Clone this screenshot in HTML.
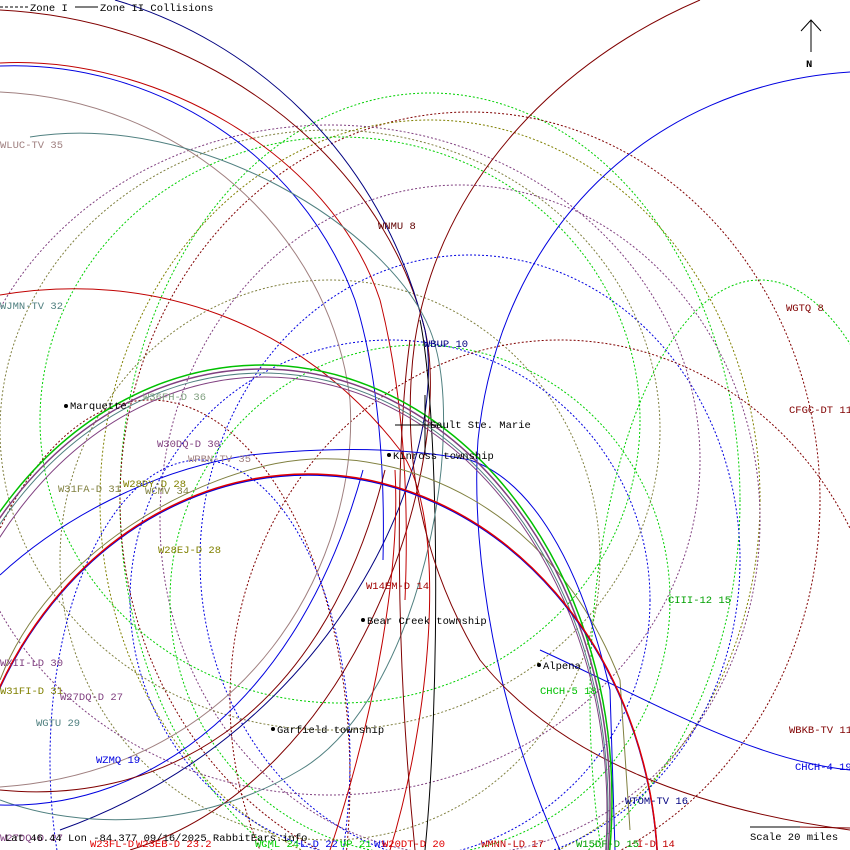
<!DOCTYPE html>
<html><head><meta charset="utf-8"><style>
html,body{margin:0;padding:0;background:#fff;width:850px;height:850px;overflow:hidden}
svg{display:block}
text{font-family:"Liberation Mono",monospace;font-size:10.5px}
</style></head><body>
<svg width="850" height="850" viewBox="0 0 850 850" xmlns="http://www.w3.org/2000/svg">
<g fill="none" stroke-width="1" stroke-dasharray="2,2">
<ellipse cx="430" cy="500" rx="310" ry="407" stroke="#00d000"/>
<ellipse cx="470" cy="500" rx="350" ry="388" stroke="#800000"/>
<ellipse cx="430" cy="500" rx="330" ry="380" stroke="#808000"/>
<ellipse cx="460" cy="520" rx="300" ry="335" stroke="#804080"/>
<ellipse cx="470" cy="560" rx="270" ry="305" stroke="#0000e0"/>
<ellipse cx="330" cy="560" rx="270" ry="280" stroke="#808040"/>
<ellipse cx="390" cy="600" rx="260" ry="260" stroke="#0000e0"/>
<ellipse cx="420" cy="600" rx="250" ry="255" stroke="#00d000"/>
<ellipse cx="560" cy="700" rx="330" ry="360" stroke="#800000"/>
<ellipse cx="340" cy="420" rx="300" ry="283" stroke="#00d000"/>
<ellipse cx="330" cy="430" rx="330" ry="300" stroke="#808040"/>
<ellipse cx="330" cy="460" rx="370" ry="335" stroke="#804080"/>
<ellipse cx="760" cy="700" rx="170" ry="420" stroke="#00d000"/>
<ellipse cx="150" cy="780" rx="200" ry="380" stroke="#800000"/>
<ellipse cx="200" cy="760" rx="150" ry="300" stroke="#0000e0"/>
</g>
<g fill="none" stroke-width="1">
<path d="M0,10 C200,20 380,150 425,330 C455,460 360,780 130,850" stroke="#800000"/>
<path d="M115,0 C250,40 380,150 425,330 C450,460 340,730 60,830" stroke="#000080"/>
<path d="M420,320 C440,420 440,700 425,850" stroke="#000000"/>
<path d="M0,63 C150,55 330,150 380,300 C400,380 410,480 405,600" stroke="#c00000"/>
<path d="M0,66 C150,60 300,150 355,300 C380,380 385,480 383,560" stroke="#0000e0"/>
<path d="M0,92 C180,100 330,230 350,400 C360,560 250,770 0,787" stroke="#a08080"/>
<path d="M30,137 C200,110 390,230 430,330 C470,430 420,700 300,770 C200,830 80,830 0,800" stroke="#508080"/>
<path d="M0,295 C150,270 300,320 400,450 C450,520 430,720 390,850" stroke="#c00000"/>
<path d="M850,72 C650,85 500,230 478,440 C470,560 500,720 560,850" stroke="#0000e0"/>
<path d="M700,0 C560,60 440,180 415,340 C400,450 420,560 480,660 C560,760 700,810 850,830" stroke="#800000"/>
<path d="M410,340 C395,450 395,650 415,850" stroke="#800000"/>
<path d="M0,805 C150,810 300,700 363,470" stroke="#0000e0"/>
<path d="M0,790 C150,805 320,730 385,470" stroke="#800000"/>
<path d="M330,850 C380,700 400,560 395,470" stroke="#c00000"/>
<path d="M0,680 C50,550 200,470 300,460 C400,450 550,500 620,680 L630,830" stroke="#808040"/>
<path d="M0,575 C60,520 150,470 250,455 C350,445 420,450 470,460 C530,480 580,560 610,690 L615,850" stroke="#0000e0"/>
<path d="M540,650 C650,700 750,760 850,770" stroke="#0000e0"/>
<ellipse cx="262" cy="800" rx="350" ry="435" stroke="#00c000" stroke-width="1.5"/>
<ellipse cx="262" cy="804" rx="348" ry="435" stroke="#804080" stroke-width="1.5"/>
<ellipse cx="262" cy="808" rx="346" ry="435" stroke="#508080"/>
<ellipse cx="265" cy="812" rx="342" ry="435" stroke="#804080"/>
<ellipse cx="308" cy="880" rx="350" ry="405" stroke="#0000e0" stroke-width="1.5"/>
<ellipse cx="308" cy="879" rx="350" ry="405" stroke="#e00000" stroke-width="1.5"/>
</g>
<line x1="395" y1="425" x2="440" y2="425" stroke="#000"/>
<line x1="425" y1="395" x2="425" y2="455" stroke="#000"/>
<line x1="750" y1="827" x2="800" y2="827" stroke="#000"/>
<line x1="800" y1="827" x2="850" y2="828" stroke="#800000"/>
<line x1="0" y1="7" x2="28" y2="7" stroke="#000" stroke-dasharray="3,2"/>
<line x1="75" y1="7" x2="98" y2="7" stroke="#000"/>
<text x="30" y="11">Zone I</text>
<text x="100" y="11">Zone II Collisions</text>
<line x1="811" y1="20" x2="811" y2="52" stroke="#000"/>
<path d="M801 31 L811 20 L821 31" fill="none" stroke="#000"/>
<text x="806" y="67" font-weight="bold" font-family="Liberation Sans" font-size="12">N</text>
<g fill="#000">
<circle cx="66" cy="406" r="2"/><text x="70" y="409">Marquette</text>
<text x="430" y="428">Sault Ste. Marie</text>
<circle cx="389" cy="455" r="2"/><text x="393" y="459">Kinross township</text>
<circle cx="363" cy="620" r="2"/><text x="367" y="624">Bear Creek township</text>
<circle cx="539" cy="665" r="2"/><text x="543" y="669">Alpena</text>
<circle cx="273" cy="729" r="2"/><text x="277" y="733">Garfield township</text>
<text x="750" y="840">Scale 20 miles</text>
</g>
<text x="0" y="148" fill="#a08080">WLUC-TV 35</text>
<text x="0" y="309" fill="#508080">WJMN-TV 32</text>
<text x="378" y="229" fill="#600000">WNMU 8</text>
<text x="424" y="347" fill="#000080">WBUP 10</text>
<text x="786" y="311" fill="#800000">WGTQ 8</text>
<text x="789" y="413" fill="#800000">CFGC-DT 11</text>
<text x="143" y="400" fill="#80a080">W36FH-D 36</text>
<text x="157" y="447" fill="#804080">W30DQ-D 30</text>
<text x="188" y="462" fill="#a08080">WPBN-TV 35</text>
<text x="58" y="492" fill="#808040">W31FA-D 31</text>
<text x="123" y="487" fill="#808000">W28DY-D 28</text>
<text x="145" y="494" fill="#808040">WCMV 34</text>
<text x="158" y="553" fill="#808000">W28EJ-D 28</text>
<text x="366" y="589" fill="#a00000">W14EM-D 14</text>
<text x="668" y="603" fill="#00a000">CIII-12 15</text>
<text x="540" y="694" fill="#00c000">CHCH-5 18</text>
<text x="0" y="666" fill="#804080">WXII-LD 30</text>
<text x="0" y="694" fill="#808000">W31FI-D 31</text>
<text x="60" y="700" fill="#804080">W27DQ-D 27</text>
<text x="36" y="726" fill="#508080">WGTU 29</text>
<text x="96" y="763" fill="#0000e0">WZMQ 19</text>
<text x="789" y="733" fill="#800000">WBKB-TV 11</text>
<text x="795" y="770" fill="#0000e0">CHCH-4 19</text>
<text x="625" y="804" fill="#000080">WTOM-TV 16</text>
<text x="0" y="841" fill="#804080">W27DQ-D 27</text>
<text x="5" y="841" fill="#000">Lat 46.44 Lon -84.377 09/16/2025 RabbitEars.info</text>
<text x="90" y="847" fill="#e00000">W23FL-D</text>
<text x="136" y="847" fill="#e00000">W23EB-D 23.2</text>
<text x="255" y="847" fill="#00d000">WCML 24</text>
<text x="300" y="847" fill="#0000e0">L-D 22</text>
<text x="340" y="847" fill="#00d000">UP 21</text>
<text x="374" y="847" fill="#0000e0">W1</text>
<text x="382" y="847" fill="#e00000">W20DT-D 20</text>
<text x="481" y="847" fill="#c00000">WMNN-LD 17</text>
<text x="576" y="847" fill="#00a000">W15DF-D 15</text>
<text x="637" y="847" fill="#c00000">I-D 14</text>
</svg>
</body></html>
